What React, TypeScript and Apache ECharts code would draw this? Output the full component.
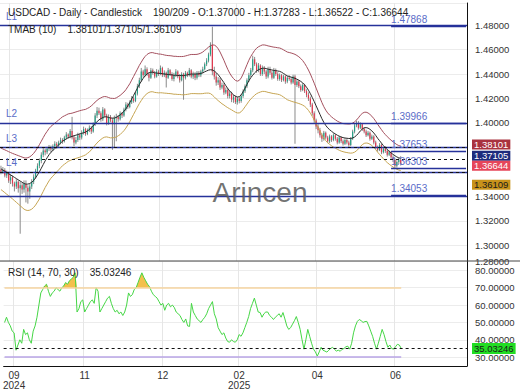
import React, { useEffect, useRef } from "react";
import * as echarts from "echarts";

const OPEN = [
  1.3620,1.3600,1.3615,1.3570,1.3590,1.3530,1.3555,1.3505,1.3480,1.3520,
  1.3465,1.3490,1.3455,1.3500,1.3470,1.3440,1.3480,1.3520,1.3560,1.3610,
  1.3650,1.3690,1.3740,1.3775,1.3760,1.3790,1.3800,1.3785,1.3810,1.3830,
  1.3815,1.3840,1.3860,1.3850,1.3880,1.3905,1.3890,1.3935,1.3880,1.3840,
  1.3860,1.3900,1.3880,1.3920,1.3950,1.3910,1.3940,1.3960,1.3930,1.3990,
  1.4060,1.4100,1.4080,1.4030,1.4110,1.4060,1.4000,1.4050,1.4020,1.3990,
  1.4040,1.4050,1.4030,1.4080,1.4060,1.4110,1.4150,1.4130,1.4170,1.4200,
  1.4180,1.4240,1.4300,1.4350,1.4420,1.4390,1.4440,1.4400,1.4370,1.4430,
  1.4410,1.4380,1.4420,1.4400,1.4450,1.4390,1.4410,1.4370,1.4430,1.4400,
  1.4360,1.4390,1.4420,1.4380,1.4350,1.4400,1.4370,1.4410,1.4390,1.4430,
  1.4380,1.4400,1.4370,1.4410,1.4390,1.4420,1.4440,1.4480,1.4510,1.4560,
  1.4640,1.4420,1.4380,1.4330,1.4350,1.4290,1.4310,1.4250,1.4270,1.4220,
  1.4240,1.4190,1.4210,1.4170,1.4200,1.4180,1.4220,1.4260,1.4300,1.4350,
  1.4390,1.4430,1.4520,1.4480,1.4430,1.4470,1.4400,1.4450,1.4420,1.4380,
  1.4440,1.4410,1.4370,1.4430,1.4400,1.4360,1.4390,1.4350,1.4380,1.4340,
  1.4370,1.4360,1.4330,1.4380,1.4310,1.4340,1.4300,1.4270,1.4310,1.4260,
  1.4230,1.4200,1.4150,1.4080,1.4020,1.3970,1.3940,1.3900,1.3870,1.3920,
  1.3880,1.3850,1.3890,1.3860,1.3900,1.3870,1.3840,1.3880,1.3850,1.3830,
  1.3860,1.3840,1.3820,1.3870,1.3930,1.3980,1.4000,1.3960,1.3990,1.3950,
  1.3930,1.3900,1.3920,1.3870,1.3890,1.3840,1.3800,1.3780,1.3820,1.3760,
  1.3790,1.3770,1.3740,1.3760,1.3720,1.3700,1.3650,1.3680,1.3700,
];
const CLOSE = [
  1.3600,1.3615,1.3570,1.3590,1.3530,1.3555,1.3505,1.3480,1.3520,1.3465,
  1.3490,1.3455,1.3500,1.3470,1.3440,1.3480,1.3520,1.3560,1.3610,1.3650,
  1.3690,1.3740,1.3775,1.3760,1.3790,1.3800,1.3785,1.3810,1.3830,1.3815,
  1.3840,1.3860,1.3850,1.3880,1.3905,1.3890,1.3935,1.3880,1.3840,1.3860,
  1.3900,1.3880,1.3920,1.3950,1.3910,1.3940,1.3960,1.3930,1.3990,1.4060,
  1.4100,1.4080,1.4030,1.4110,1.4060,1.4000,1.4050,1.4020,1.3990,1.4040,
  1.4050,1.4030,1.4080,1.4060,1.4110,1.4150,1.4130,1.4170,1.4200,1.4180,
  1.4240,1.4300,1.4350,1.4420,1.4390,1.4440,1.4400,1.4370,1.4430,1.4410,
  1.4380,1.4420,1.4400,1.4450,1.4390,1.4410,1.4370,1.4430,1.4400,1.4360,
  1.4390,1.4420,1.4380,1.4350,1.4400,1.4370,1.4410,1.4390,1.4430,1.4380,
  1.4400,1.4370,1.4410,1.4390,1.4420,1.4440,1.4480,1.4510,1.4560,1.4640,
  1.4420,1.4380,1.4330,1.4350,1.4290,1.4310,1.4250,1.4270,1.4220,1.4240,
  1.4190,1.4210,1.4170,1.4200,1.4180,1.4220,1.4260,1.4300,1.4350,1.4390,
  1.4430,1.4520,1.4480,1.4430,1.4470,1.4400,1.4450,1.4420,1.4380,1.4440,
  1.4410,1.4370,1.4430,1.4400,1.4360,1.4390,1.4350,1.4380,1.4340,1.4370,
  1.4360,1.4330,1.4380,1.4310,1.4340,1.4300,1.4270,1.4310,1.4260,1.4230,
  1.4200,1.4150,1.4080,1.4020,1.3970,1.3940,1.3900,1.3870,1.3920,1.3880,
  1.3850,1.3890,1.3860,1.3900,1.3870,1.3840,1.3880,1.3850,1.3830,1.3860,
  1.3840,1.3820,1.3870,1.3930,1.3980,1.4000,1.3960,1.3990,1.3950,1.3930,
  1.3900,1.3920,1.3870,1.3890,1.3840,1.3800,1.3780,1.3820,1.3760,1.3790,
  1.3770,1.3740,1.3760,1.3720,1.3700,1.3650,1.3680,1.3700,1.36644,
];
const HIGH = [
  1.3650,1.3640,1.3630,1.3610,1.3600,1.3580,1.3570,1.3520,1.3540,1.3530,
  1.3520,1.3510,1.3530,1.3530,1.3490,1.3500,1.3540,1.3580,1.3625,1.3670,
  1.3710,1.3760,1.3795,1.3790,1.3805,1.3820,1.3815,1.3825,1.3850,1.3845,
  1.3855,1.3880,1.3875,1.3895,1.3925,1.3915,1.3950,1.4050,1.3900,1.3885,
  1.3920,1.3915,1.3940,1.3970,1.3960,1.3955,1.3980,1.3975,1.4005,1.4080,
  1.4130,1.4125,1.4095,1.4130,1.4120,1.4075,1.4070,1.4065,1.4040,1.4060,
  1.4075,1.4065,1.4095,1.4090,1.4125,1.4170,1.4165,1.4185,1.4220,1.4215,
  1.4255,1.4320,1.4370,1.4450,1.4435,1.4470,1.4455,1.4415,1.4450,1.4445,
  1.4425,1.4440,1.4435,1.4470,1.4460,1.4430,1.4420,1.4450,1.4440,1.4415,
  1.4410,1.4440,1.4430,1.4400,1.4415,1.4410,1.4425,1.4420,1.4450,1.4440,
  1.4420,1.4415,1.4425,1.4425,1.4435,1.4460,1.4495,1.4530,1.4575,1.4660,
  1.47868,1.4460,1.4410,1.4375,1.4370,1.4330,1.4325,1.4290,1.4285,1.4260,
  1.4255,1.4230,1.4225,1.4215,1.4215,1.4235,1.4275,1.4315,1.4365,1.4410,
  1.4450,1.4550,1.4540,1.4495,1.4490,1.4480,1.4470,1.4465,1.4435,1.4460,
  1.4460,1.4425,1.4450,1.4445,1.4415,1.4405,1.4400,1.4395,1.4390,1.4385,
  1.4390,1.4375,1.4395,1.4395,1.4355,1.4350,1.4315,1.4325,1.4320,1.4275,
  1.4250,1.4215,1.4165,1.4095,1.4035,1.3990,1.3960,1.3915,1.3935,1.3930,
  1.3895,1.3905,1.3900,1.3915,1.3910,1.3885,1.3895,1.3890,1.3865,1.3875,
  1.3875,1.3855,1.3885,1.3945,1.3995,1.4020,1.4015,1.4005,1.4000,1.3965,
  1.3945,1.3935,1.3930,1.3905,1.3900,1.3855,1.3815,1.3835,1.3830,1.3805,
  1.3810,1.3785,1.3775,1.3770,1.3735,1.3715,1.3695,1.3715,1.37283,
];
const LOW = [
  1.3580,1.3585,1.3555,1.3550,1.3510,1.3500,1.3480,1.3440,1.3460,1.3430,
  1.3094,1.3420,1.3430,1.3350,1.3340,1.3380,1.3460,1.3500,1.3545,1.3590,
  1.3630,1.3670,1.3720,1.3735,1.3745,1.3770,1.3760,1.3770,1.3795,1.3790,
  1.3800,1.3825,1.3830,1.3840,1.3865,1.3870,1.3875,1.3865,1.3810,1.3825,
  1.3845,1.3860,1.3865,1.3905,1.3895,1.3900,1.3925,1.3910,1.3920,1.3975,
  1.4040,1.4065,1.4010,1.4015,1.4045,1.3980,1.3985,1.4005,1.3780,1.3800,
  1.3850,1.4010,1.4020,1.4040,1.4050,1.4095,1.4115,1.4120,1.4155,1.4165,
  1.4170,1.4225,1.4285,1.4335,1.4370,1.4380,1.4385,1.4340,1.4360,1.4395,
  1.4365,1.4370,1.4385,1.4390,1.4375,1.4375,1.4290,1.4360,1.4385,1.4345,
  1.4340,1.4375,1.4365,1.4330,1.4340,1.4190,1.4355,1.4375,1.4380,1.4365,
  1.4360,1.4350,1.4355,1.4375,1.4375,1.4405,1.4430,1.4465,1.4495,1.4545,
  1.4390,1.4355,1.4305,1.4310,1.4270,1.4275,1.4230,1.4235,1.4200,1.4200,
  1.4170,1.4165,1.4155,1.4150,1.4160,1.4165,1.4205,1.4245,1.4285,1.4335,
  1.4375,1.4415,1.4465,1.4410,1.4415,1.4385,1.4385,1.4400,1.4360,1.4365,
  1.4395,1.4355,1.4360,1.4385,1.4345,1.4345,1.4335,1.4340,1.4320,1.4325,
  1.4345,1.4315,1.4320,1.3830,1.4295,1.4285,1.4255,1.4260,1.4245,1.4210,
  1.4180,1.4130,1.4060,1.4000,1.3950,1.3915,1.3880,1.3845,1.3855,1.3865,
  1.3835,1.3835,1.3845,1.3850,1.3855,1.3825,1.3830,1.3835,1.3815,1.3820,
  1.3825,1.3805,1.3810,1.3860,1.3915,1.3965,1.3945,1.3950,1.3935,1.3915,
  1.3885,1.3890,1.3855,1.3860,1.3825,1.3785,1.3765,1.3770,1.3745,1.3750,
  1.3755,1.3725,1.3730,1.3705,1.3680,1.3630,1.3635,1.3665,1.36522,
];
const TMAB_MID = [
  1.3625,1.3615,1.3605,1.3595,1.3585,1.3575,1.3565,1.3555,1.3545,1.3535,
  1.3525,1.3515,1.3505,1.3500,1.3500,1.3505,1.3515,1.3530,1.3550,1.3575,
  1.3600,1.3630,1.3660,1.3690,1.3715,1.3740,1.3760,1.3775,1.3790,1.3805,
  1.3820,1.3835,1.3850,1.3860,1.3870,1.3880,1.3885,1.3890,1.3895,1.3900,
  1.3905,1.3910,1.3915,1.3920,1.3925,1.3935,1.3945,1.3960,1.3975,1.3995,
  1.4010,1.4025,1.4035,1.4045,1.4050,1.4050,1.4045,1.4040,1.4040,1.4040,
  1.4045,1.4055,1.4065,1.4080,1.4095,1.4115,1.4140,1.4165,1.4195,1.4225,
  1.4255,1.4285,1.4315,1.4340,1.4365,1.4385,1.4400,1.4410,1.4415,1.4415,
  1.4410,1.4408,1.4405,1.4405,1.4403,1.4400,1.4398,1.4396,1.4395,1.4393,
  1.4390,1.4390,1.4388,1.4388,1.4387,1.4387,1.4390,1.4393,1.4397,1.4400,
  1.4400,1.4400,1.4400,1.4402,1.4405,1.4410,1.4418,1.4425,1.4432,1.4435,
  1.4433,1.4425,1.4412,1.4395,1.4375,1.4352,1.4330,1.4305,1.4282,1.4262,
  1.4245,1.4230,1.4218,1.4212,1.4215,1.4230,1.4255,1.4285,1.4315,1.4345,
  1.4370,1.4390,1.4410,1.4425,1.4435,1.4442,1.4448,1.4448,1.4445,1.4440,
  1.4437,1.4433,1.4430,1.4428,1.4425,1.4422,1.4415,1.4405,1.4395,1.4385,
  1.4380,1.4375,1.4370,1.4365,1.4358,1.4350,1.4340,1.4328,1.4312,1.4292,
  1.4268,1.4240,1.4208,1.4175,1.4140,1.4105,1.4070,1.4035,1.4005,1.3980,
  1.3960,1.3945,1.3932,1.3920,1.3910,1.3900,1.3892,1.3885,1.3880,1.3877,
  1.3875,1.3873,1.3873,1.3877,1.3885,1.3898,1.3915,1.3935,1.3950,1.3960,
  1.3962,1.3958,1.3948,1.3935,1.3918,1.3898,1.3875,1.3855,1.3835,1.3815,
  1.3798,1.3782,1.3768,1.3755,1.3743,1.3732,1.3722,1.3715,1.37105,
];
const TMAB_HALF = [
  0.0170,0.0172,0.0175,0.0178,0.0180,0.0183,0.0186,0.0190,0.0194,0.0198,
  0.0202,0.0206,0.0210,0.0213,0.0216,0.0218,0.0220,0.0221,0.0222,0.0222,
  0.0222,0.0221,0.0220,0.0218,0.0216,0.0214,0.0212,0.0210,0.0208,0.0206,
  0.0204,0.0202,0.0200,0.0198,0.0196,0.0194,0.0192,0.0190,0.0190,0.0190,
  0.0190,0.0190,0.0189,0.0188,0.0186,0.0184,0.0182,0.0180,0.0178,0.0176,
  0.0174,0.0172,0.0170,0.0168,0.0166,0.0164,0.0163,0.0162,0.0161,0.0160,
  0.0160,0.0160,0.0160,0.0159,0.0158,0.0157,0.0156,0.0155,0.0155,0.0155,
  0.0155,0.0155,0.0156,0.0157,0.0158,0.0159,0.0160,0.0160,0.0160,0.0160,
  0.0160,0.0160,0.0159,0.0158,0.0157,0.0156,0.0155,0.0155,0.0155,0.0155,
  0.0155,0.0155,0.0155,0.0155,0.0156,0.0157,0.0158,0.0159,0.0160,0.0160,
  0.0160,0.0160,0.0161,0.0163,0.0166,0.0170,0.0175,0.0181,0.0188,0.0195,
  0.0205,0.0212,0.0215,0.0212,0.0205,0.0195,0.0183,0.0170,0.0157,0.0146,
  0.0138,0.0133,0.0130,0.0130,0.0133,0.0138,0.0145,0.0153,0.0161,0.0168,
  0.0174,0.0179,0.0183,0.0186,0.0188,0.0189,0.0190,0.0190,0.0190,0.0190,
  0.0190,0.0190,0.0190,0.0190,0.0190,0.0191,0.0192,0.0193,0.0194,0.0195,
  0.0196,0.0197,0.0197,0.0196,0.0194,0.0191,0.0187,0.0182,0.0176,0.0170,
  0.0165,0.0160,0.0155,0.0150,0.0145,0.0140,0.0136,0.0132,0.0128,0.0125,
  0.0122,0.0120,0.0118,0.0117,0.0116,0.0115,0.0115,0.0115,0.0115,0.0116,
  0.0117,0.0118,0.0120,0.0122,0.0124,0.0126,0.0127,0.0128,0.0128,0.0127,
  0.0126,0.0124,0.0122,0.0120,0.0118,0.0116,0.0114,0.0112,0.0110,0.0108,
  0.0107,0.0106,0.0105,0.0104,0.0103,0.0102,0.0101,0.0100,0.00996,
];
const RSI = [
  50,53,50,48,45,44,34,37,40,38,
  46,43,44,40,38,45,48,53,60,67,
  69,71,72,68,65,67,68,70,69,68,
  70,71,73,72,74,75,76,78.6,56,58,
  62,63,56,58,60,62,63,61,70,68,
  56,58,60,62,64,65,61,58,56,57,
  55,56,54,56,60,67,65,66,69,70,
  73,76,78.6,76,74,72,70.6,68,66,65,
  64,62,60,61,57,60,61,59,60,58.6,
  56,55,54,51.7,50,52,48,47.7,61,56,
  54,52,51,50,51.7,53,55,58,60,62,
  55,52,47,45,43,44,41,39,38.6,40,
  39,38.6,40,43,42,44,47,50,53.4,58,
  61,64,60,56,55.7,53,55,56,56,54,
  53,51.7,53,54,55,53,55.7,52,48,46,
  47,49,51,53.4,50,46,40,34.6,40,46,
  42,38,34.6,33,30.6,33,35.7,34,33.5,32.9,
  34,35,35.7,34.5,33.5,34,33.4,34.5,35,36,
  36.3,34.6,38,44,48,50.6,51.7,51,50,50.5,
  50.6,48,45,42,38,34.6,38,42,46,43,
  39,35.7,37,35,34.6,36,37.4,37,35.03246,
];

const SLOT_COUNT = 243;
const X_TICK_INDEX = [5, 42, 83, 123, 164, 205];
const X_TICK_LABEL = ["09\n2024", "11", "12", "02\n2025", "04", "06"];
const LEVEL_VALUES = [1.47868, 1.39966, 1.37653, 1.36303, 1.34053];
const LEVEL_NAMES = ["L1", "L2", "L3", "L4", ""];
const MARKER_VALUES = [1.38101, 1.37105, 1.36644, 1.36109];
const RSI_BOUNDS = [70, 30];

const MARKER_STYLE = [
  { bg: "#a9323f", fg: "#ffffff", dy: -3 },
  { bg: "#1d2b7d", fg: "#ffffff", dy: -4 },
  { bg: "#e6465a", fg: "#ffffff", dy: 6 },
  { bg: "#c8921a", fg: "#1a1a1a", dy: 13 },
];
const UP = "#22a085";
const DOWN = "#e3374d";
const NAVY = "#26329a";
const LEVEL_TEXT = "#5a6cc8";
const FONT = "'Liberation Sans', Arial, sans-serif";

export default function App() {
  const ref = useRef<HTMLDivElement>(null);
  useEffect(() => {
    document.body.style.margin = "0";
    if (!ref.current) return;
    const chart = echarts.init(ref.current, null, { renderer: "svg" });
    const n = CLOSE.length;
    const cats = Array.from({ length: SLOT_COUNT }, (_, i) => String(i));
    const candleData = CLOSE.map((c, i) => [i, OPEN[i], c, LOW[i], HIGH[i]]);
    const upper = TMAB_MID.map((m, i) => +(m + TMAB_HALF[i]).toFixed(5));
    const lower = TMAB_MID.map((m, i) => +(m - TMAB_HALF[i]).toFixed(5));
    const overbought = RSI.map((v) => Math.max(v, RSI_BOUNDS[0]));
    const isTick = (idx: number) => X_TICK_INDEX.indexOf(idx) >= 0;
    const lastRsi = RSI[n - 1];
    // axis ticks that sit behind a marker box are covered in the reference
    const coveredByMarker = (v: number) => MARKER_VALUES.some((m) => Math.abs(m - v) < 0.006);

    const levelLines: any[] = [];
    LEVEL_VALUES.forEach((v, k) => {
      levelLines.push({
        yAxis: v,
        lineStyle: { color: NAVY, type: "solid", width: 1.3 },
        label: {
          show: LEVEL_NAMES[k] !== "",
          formatter: LEVEL_NAMES[k],
          position: "insideStartTop",
          distance: [6, 4],
          color: LEVEL_TEXT,
          fontSize: 10,
        },
      });
      levelLines.push([
        {
          coord: [203, v],
          lineStyle: { color: NAVY, type: "solid", width: 1.3 },
          label: {
            show: true,
            formatter: v.toFixed(5),
            position: "insideStartTop",
            distance: [0, 2],
            color: LEVEL_TEXT,
            fontSize: 10,
          },
        },
        { coord: [SLOT_COUNT - 1, v] },
      ]);
    });
    MARKER_VALUES.forEach((v, k) => {
      levelLines.push({
        yAxis: v,
        lineStyle: { color: "#111", type: [3, 3], width: 1 },
        label: {
          show: true,
          formatter: v.toFixed(5),
          position: "end",
          distance: 5,
          offset: [0, MARKER_STYLE[k].dy],
          backgroundColor: MARKER_STYLE[k].bg,
          color: MARKER_STYLE[k].fg,
          padding: [0, 2, 0, 2],
          lineHeight: 10,
          fontSize: 9.5,
        },
      });
    });

    const option: any = {
      animation: false,
      textStyle: { fontFamily: FONT },
      grid: [
        { left: 0, right: 53, top: 3, height: 258 },
        { left: 0, right: 53, top: 261, height: 106 },
      ],
      xAxis: [
        {
          type: "category",
          gridIndex: 0,
          data: cats,
          boundaryGap: true,
          axisLine: { show: false },
          axisTick: { show: false },
          axisLabel: { show: false },
          splitLine: { show: true, interval: (i: number) => isTick(i), lineStyle: { color: "#e6e6e6" } },
        },
        {
          type: "category",
          gridIndex: 1,
          data: cats,
          boundaryGap: true,
          axisLine: { show: true, lineStyle: { color: "#111" } },
          axisTick: { show: false },
          axisLabel: {
            interval: (i: number) => isTick(i),
            formatter: (_v: string, i: number) => {
              const k = X_TICK_INDEX.indexOf(i);
              return k >= 0 ? X_TICK_LABEL[k] : "";
            },
            fontSize: 10,
            lineHeight: 10,
            color: "#333",
            margin: 4,
          },
          splitLine: { show: true, interval: (i: number) => isTick(i), lineStyle: { color: "#e6e6e6" } },
        },
      ],
      yAxis: [
        {
          type: "value",
          gridIndex: 0,
          position: "right",
          min: 1.2871,
          max: 1.4981,
          splitNumber: 10,
          axisLine: { show: true, lineStyle: { color: "#111" } },
          axisTick: { show: false },
          axisLabel: {
            showMaxLabel: false,
            color: "#333",
            fontSize: 9.5,
            margin: 8,
            formatter: (v: number) => {
              const t = Math.floor(v / 0.02 + 1e-6) * 0.02;
              return coveredByMarker(t) ? "" : t.toFixed(5);
            },
          },
          splitLine: { lineStyle: { color: "#ececec" } },
        },
        {
          type: "value",
          gridIndex: 1,
          position: "right",
          min: 24.9,
          max: 85.4,
          splitNumber: 6,
          axisLine: { show: true, lineStyle: { color: "#111" } },
          axisTick: { show: false },
          axisLabel: {
            showMaxLabel: false,
            color: "#333",
            fontSize: 9.5,
            margin: 8,
            formatter: (v: number) => (Math.floor(v / 10 + 1e-6) * 10).toFixed(5),
          },
          splitLine: { lineStyle: { color: "#ececec" } },
        },
      ],
      series: [
        {
          type: "custom",
          name: "USDCAD",
          xAxisIndex: 0,
          yAxisIndex: 0,
          data: candleData,
          encode: { x: 0, y: [1, 2, 3, 4] },
          clip: true,
          z: 3,
          renderItem: (_p: any, api: any) => {
            const i = api.value(0);
            const o = api.value(1);
            const c = api.value(2);
            const l = api.value(3);
            const h = api.value(4);
            const pO = api.coord([i, o]);
            const pC = api.coord([i, c]);
            const pL = api.coord([i, l]);
            const pH = api.coord([i, h]);
            const w = api.size([1, 0])[0] * 0.62;
            const top = Math.min(pO[1], pC[1]);
            const hgt = Math.max(Math.abs(pO[1] - pC[1]), 1);
            return {
              type: "group",
              children: [
                {
                  type: "line",
                  shape: { x1: pH[0], y1: pH[1], x2: pL[0], y2: pL[1] },
                  style: { stroke: "#8a8a8a", lineWidth: 1 },
                },
                {
                  type: "rect",
                  shape: { x: pO[0] - w / 2, y: top, width: w, height: hgt },
                  style: { fill: c >= o ? UP : DOWN },
                },
              ],
            };
          },
        },
        {
          type: "line",
          name: "TMAB upper",
          xAxisIndex: 0,
          yAxisIndex: 0,
          data: upper,
          showSymbol: false,
          lineStyle: { color: "#a4505e", width: 1 },
          z: 4,
        },
        {
          type: "line",
          name: "TMAB mid",
          xAxisIndex: 0,
          yAxisIndex: 0,
          data: TMAB_MID,
          showSymbol: false,
          lineStyle: { color: "#2a2a2a", width: 1 },
          z: 4,
          markLine: { silent: true, symbol: "none", animation: false, data: levelLines },
        },
        {
          type: "line",
          name: "TMAB lower",
          xAxisIndex: 0,
          yAxisIndex: 0,
          data: lower,
          showSymbol: false,
          lineStyle: { color: "#c6a553", width: 1 },
          z: 4,
        },
        {
          type: "line",
          name: "RSI fill",
          xAxisIndex: 1,
          yAxisIndex: 1,
          data: overbought,
          showSymbol: false,
          lineStyle: { width: 0, opacity: 0 },
          areaStyle: { origin: RSI_BOUNDS[0], color: "#f3c04c", opacity: 1 },
          z: 2,
        },
        {
          type: "line",
          name: "RSI",
          xAxisIndex: 1,
          yAxisIndex: 1,
          data: RSI,
          showSymbol: false,
          lineStyle: { color: "#45d645", width: 1 },
          z: 4,
          markLine: {
            silent: true,
            symbol: "none",
            animation: false,
            data: [
              [
                { coord: [0, RSI_BOUNDS[0]], lineStyle: { color: "#f6d4a0", width: 1.5, type: "solid" }, label: { show: false } },
                { coord: [n - 1, RSI_BOUNDS[0]] },
              ],
              [
                { coord: [0, RSI_BOUNDS[1]], lineStyle: { color: "#b8a4e6", width: 1.5, type: "solid" }, label: { show: false } },
                { coord: [n - 1, RSI_BOUNDS[1]] },
              ],
              {
                yAxis: lastRsi,
                lineStyle: { color: "#111", type: [3, 3], width: 1 },
                label: {
                  show: true,
                  position: "end",
                  distance: 5,
                  formatter: lastRsi.toFixed(5),
                  backgroundColor: "#22dd22",
                  color: "#1a1a1a",
                  padding: [1, 2, 0, 2],
                  lineHeight: 10,
                  fontSize: 9.5,
                },
              },
            ],
          },
        },
      ],
      graphic: [
        {
          type: "line",
          shape: { x1: 0, y1: 261, x2: 520, y2: 261 },
          style: { stroke: "#444", lineWidth: 1 },
          z: 10,
        },
        {
          type: "text",
          left: 8,
          top: 7,
          style: {
            text: "USDCAD - Daily - Candlestick    190/209 - O:1.37000 - H:1.37283 - L:1.36522 - C:1.36644",
            font: "10px " + FONT,
            fill: "#222",
          },
          z: 20,
        },
        {
          type: "text",
          left: 8,
          top: 24,
          style: { text: "TMAB (10)    1.38101/1.37105/1.36109", font: "10px " + FONT, fill: "#222" },
          z: 20,
        },
        {
          type: "text",
          left: 8,
          top: 267,
          style: { text: "RSI (14, 70, 30)    35.03246", font: "10px " + FONT, fill: "#222" },
          z: 20,
        },
        {
          type: "text",
          left: "center",
          top: 178,
          style: { text: "Arincen", font: "28px " + FONT, fill: "rgba(90,90,90,0.85)" },
          z: 20,
        },
      ],
    };
    chart.setOption(option);
    return () => chart.dispose();
  }, []);
  return <div ref={ref} style={{ width: 520, height: 390 }} />;
}
